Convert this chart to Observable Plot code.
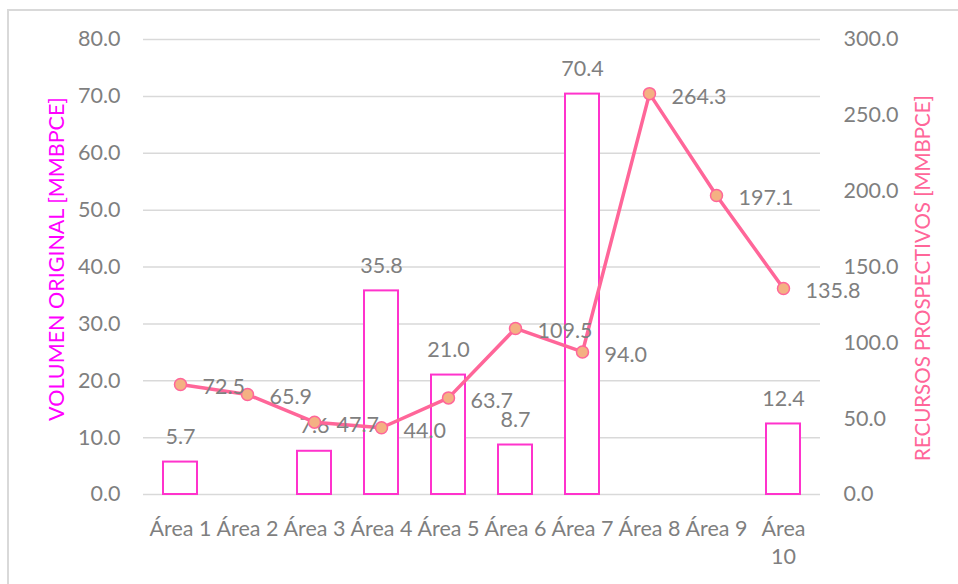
<!DOCTYPE html>
<html>
<head>
<meta charset="utf-8">
<script src="https://cdn.jsdelivr.net/npm/d3@7"></script>
<script src="https://cdn.jsdelivr.net/npm/@observablehq/plot@0.6"></script>
<style>
  html, body { margin: 0; padding: 0; background: #fff; overflow: hidden; }
  #frame { position: absolute; left: 7px; top: 9px; width: 1200px; height: 1200px; border: 2px solid #D9D9D9; box-sizing: border-box; }
  #chart { position: absolute; left: 0; top: 0; }
</style>
</head>
<body>
<div id="frame"></div>
<div id="chart"></div>
<script>
const categories = ["Área 1", "Área 2", "Área 3", "Área 4", "Área 5", "Área 6", "Área 7", "Área 8", "Área 9", "Área 10"];
const volumenOriginal = [5.7, null, 7.6, 35.8, 21.0, 8.7, 70.4, null, null, 12.4];
const recursosProspectivos = [72.5, 65.9, 47.7, 44.0, 63.7, 109.5, 94.0, 264.3, 197.1, 135.8];
const leftTicks = [0, 10, 20, 30, 40, 50, 60, 70, 80];
const rightTicks = [0, 50, 100, 150, 200, 250, 300];
const leftMax = 80, rightMax = 300;
const leftTitle = "VOLUMEN ORIGINAL [MMBPCE]";
const rightTitle = "RECURSOS PROSPECTIVOS [MMBPCE]";

const ratio = leftMax / rightMax;
const bars = categories.map((c, i) => ({cat: c, v: volumenOriginal[i]})).filter(d => d.v != null);
const line = categories.map((c, i) => ({cat: c, v: recursosProspectivos[i], s: recursosProspectivos[i] * ratio}));

const gray = "#7F7F7F";
const font = "Lato, 'Open Sans', sans-serif";
const fs = 21.5;

const chart = Plot.plot({
  width: 958,
  height: 584,
  marginLeft: 143,
  marginRight: 138,
  marginTop: 39,
  marginBottom: 90,
  style: {fontFamily: font, fontSize: fs + "px", color: gray, background: "transparent"},
  x: {type: "band", domain: categories, paddingInner: 0.5, paddingOuter: 0.25, label: null},
  y: {domain: [0, leftMax], label: null},
  marks: [
    Plot.gridY(leftTicks, {stroke: "#D9D9D9", strokeOpacity: 1, strokeWidth: 1.5}),
    Plot.axisY(leftTicks, {anchor: "left", tickSize: 0, tickPadding: 23, tickFormat: d => d.toFixed(1), fill: gray, fontSize: fs, label: null}),
    Plot.axisY(rightTicks.map(d => d * ratio), {anchor: "right", tickSize: 0, tickPadding: 23, tickFormat: d => (d / ratio).toFixed(1), fill: gray, fontSize: fs, label: null}),
    Plot.axisX({tickSize: 0, tickPadding: 21, fill: gray, fontSize: fs, lineHeight: 1.33, tickFormat: d => d === "Área 10" ? "Área\n10" : d, label: null}),
    Plot.barY(bars, {x: "cat", y: "v", fill: "white", stroke: "#FF33CC", strokeWidth: 2}),
    Plot.text(bars, {x: "cat", y: "v", text: d => d.v.toFixed(1), dy: -25, fill: gray, fontSize: fs}),
    Plot.line(line, {x: "cat", y: "s", stroke: "#FF6699", strokeWidth: 3.5}),
    Plot.dot(line, {x: "cat", y: "s", r: 6, fill: "#F4B183", stroke: "#FF6699", strokeWidth: 1.5}),
    Plot.text(line, {x: "cat", y: "s", text: d => d.v.toFixed(1), dx: 22, dy: 3, textAnchor: "start", fill: gray, fontSize: fs}),
    Plot.text([leftTitle], {frameAnchor: "left", textAnchor: "middle", dx: -86, dy: -8, rotate: -90, fill: "#FF00FF", fontSize: 21.5, text: d => d}),
    Plot.text([rightTitle], {frameAnchor: "right", textAnchor: "middle", dx: 103, dy: 11, rotate: -90, fill: "#FF6699", fontSize: 20.5, text: d => d})
  ]
});
document.getElementById("chart").appendChild(chart);
</script>
</body>
</html>
